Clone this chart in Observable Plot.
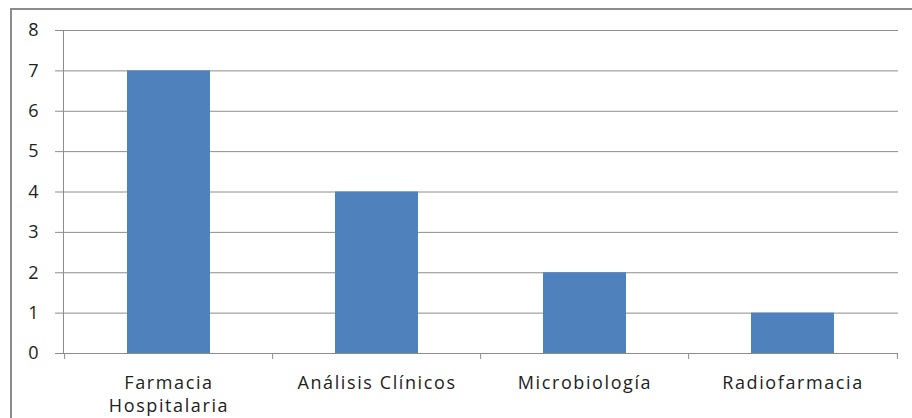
<!DOCTYPE html>
<html>
<head>
<meta charset="utf-8">
<script src="https://cdn.jsdelivr.net/npm/d3@7"></script>
<script src="https://cdn.jsdelivr.net/npm/@observablehq/plot@0.6"></script>
<style>
  html, body { margin: 0; padding: 0; background: #fff; overflow: hidden; }
  #wrap { position: relative; width: 912px; height: 418px; }
  #frame { position: absolute; left: 10px; top: 8px; width: 920px; height: 430px; border: 2px solid #8c8c8c; box-sizing: border-box; pointer-events: none; }
  #chart { position: absolute; left: 0; top: 0; }
  #chart svg g[aria-label="x-axis tick label"] text { letter-spacing: 1.6px; }
  #chart svg g[aria-label="y-axis tick label"] text { letter-spacing: 1px; }
</style>
</head>
<body>
<div id="wrap"><div id="chart"></div><div id="frame"></div></div>
<script>
const categories = ["Farmacia\nHospitalaria", "Análisis Clínicos", "Microbiología", "Radiofarmacia"];
const values = [7, 4, 2, 1];
const yTicks = [0, 1, 2, 3, 4, 5, 6, 7, 8];

const data = categories.map((c, i) => ({category: c, value: values[i]}));

const W = 912, H = 418, mL = 63, mR = 14, mT = 30, mB = 65;
const band = (W - mL - mR) / categories.length;

const chart = Plot.plot({
  width: W,
  height: H,
  marginLeft: mL,
  marginRight: mR,
  marginTop: mT,
  marginBottom: mB,
  style: {fontFamily: "'Open Sans', sans-serif", fontSize: "18px", color: "#222", background: "white"},
  x: {domain: categories, paddingInner: 0.6, paddingOuter: 0.3, align: 0.5, label: null},
  y: {domain: [0, 8], ticks: yTicks, label: null},
  marks: [
    Plot.gridY(yTicks, {stroke: "#8c8c8c", strokeOpacity: 1, strokeWidth: 1}),
    Plot.barY(data, {x: "category", y: "value", fill: "#4f81bd"}),
    Plot.ruleY([0], {stroke: "#8c8c8c", strokeWidth: 1}),
    Plot.frame({anchor: "left", stroke: "#8c8c8c", strokeWidth: 1}),
    Plot.ruleX(categories, {x: d => d, dx: -band / 2, y1: 0, y2: -0.15, stroke: "#8c8c8c"}),
    Plot.ruleX([categories[categories.length - 1]], {x: d => d, dx: band / 2, y1: 0, y2: -0.15, stroke: "#8c8c8c"}),
    Plot.axisY(yTicks, {tickSize: 8, tickPadding: 16, stroke: "#8c8c8c", fill: "#222", fontSize: 18, label: null}),
    Plot.axisX({tickSize: 0, tickPadding: 19, fontSize: 18, fill: "#222", lineHeight: 1.28, label: null})
  ]
});
document.getElementById("chart").appendChild(chart);
</script>
</body>
</html>
